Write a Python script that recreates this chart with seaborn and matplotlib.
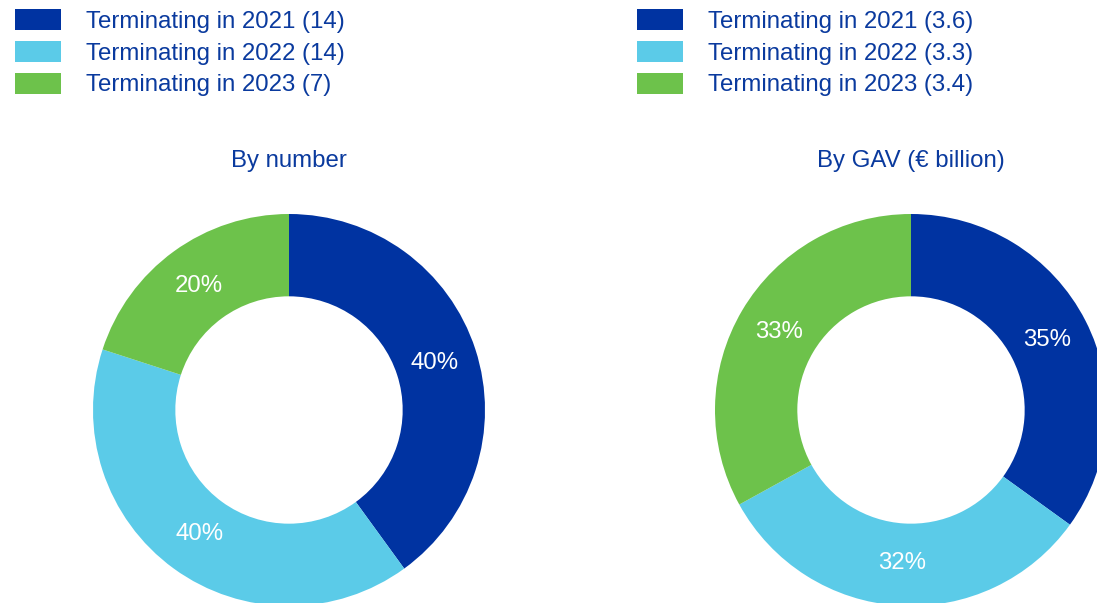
import matplotlib
matplotlib.use("Agg")
import matplotlib.pyplot as plt
from matplotlib.patches import Patch
import seaborn as sns

sns.set_theme(style="white")
plt.rcParams["font.family"] = ["Liberation Sans", "DejaVu Sans"]

categories = ["Terminating in 2021", "Terminating in 2022", "Terminating in 2023"]
by_number = [14, 14, 7]
by_gav = [3.6, 3.3, 3.4]
number_labels = ["14", "14", "7"]
gav_labels = ["3.6", "3.3", "3.4"]
titles = ["By number", "By GAV (€ billion)"]

colors = ["#0033a1", "#5bcbe8", "#6dc24b"]
text_blue = "#0a3a9e"

W, H = 1097, 603
fig = plt.figure(figsize=(W / 100, H / 100), dpi=100)
fig.patch.set_facecolor("white")

FS = 17.3
R = 196
centers = [(289, 410), (911, 410)]
datasets = [by_number, by_gav]
label_sets = [number_labels, gav_labels]
legend_x = [15, 637]

for (cx, cy), vals, labs, title, lx in zip(centers, datasets, label_sets, titles, legend_x):
    ax = fig.add_axes([(cx - R) / W, (H - cy - R) / H, 2 * R / W, 2 * R / H])
    ax.pie(vals, colors=colors, startangle=90, counterclock=False, radius=1,
           wedgeprops=dict(width=0.42, linewidth=0),
           autopct="%.0f%%", pctdistance=0.78,
           textprops=dict(color="white", fontsize=FS))
    ax.set_xlim(-1, 1)
    ax.set_ylim(-1, 1)
    ax.set_aspect("equal")
    ax.axis("off")
    fig.text(cx / W, 1 - 161 / H, title, ha="center", va="center",
             fontsize=FS, color=text_blue)

    handles = [Patch(facecolor=c, edgecolor="none") for c in colors]
    labels = [f"{c} ({v})" for c, v in zip(categories, labs)]
    leg = fig.legend(handles, labels, loc="upper left",
                     bbox_to_anchor=(lx / W, 1 - 9.5 / H),
                     frameon=False, fontsize=FS, borderpad=0, borderaxespad=0,
                     handlelength=1.92, handleheight=0.96, handletextpad=1.04,
                     labelspacing=0.33)
    for t in leg.get_texts():
        t.set_color(text_blue)

fig.savefig("out.png", dpi=100, facecolor="white")
